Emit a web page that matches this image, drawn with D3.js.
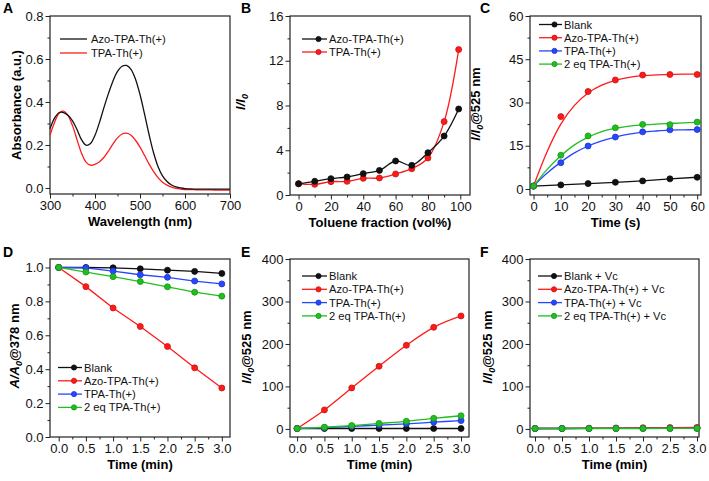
<!DOCTYPE html>
<html><head><meta charset="utf-8">
<script src="https://cdn.jsdelivr.net/npm/d3@7"></script>
<style>
html,body{margin:0;padding:0;background:#fff;}
svg text{font-family:"Liberation Sans",Arial,sans-serif;}
</style></head>
<body><svg id="c" width="709" height="481"></svg>
<script>
// ---------- DATA ----------
// Panel A: UV-vis
const wavelength = [300,310,320,330,340,350,360,370,380,390,400,410,420,430,440,450,460,470,480,490,500,510,520,530,540,550,560,570,580,590,600,610,620,630,640,650,660,670,680,690,700];
const absAzo = [0.275,0.325,0.350,0.351,0.338,0.312,0.272,0.225,0.199,0.207,0.245,0.305,0.375,0.440,0.498,0.542,0.566,0.570,0.552,0.506,0.435,0.345,0.250,0.165,0.100,0.056,0.030,0.014,0.005,0.000,-0.003,-0.004,-0.005,-0.005,-0.005,-0.005,-0.005,-0.005,-0.005,-0.005,-0.005];
const absTpa = [0.245,0.305,0.348,0.357,0.336,0.290,0.225,0.162,0.120,0.106,0.110,0.122,0.143,0.172,0.205,0.233,0.251,0.255,0.245,0.222,0.190,0.152,0.112,0.077,0.048,0.027,0.013,0.004,-0.002,-0.005,-0.007,-0.008,-0.008,-0.009,-0.009,-0.009,-0.009,-0.010,-0.010,-0.010,-0.010];
// Panel B: toluene fraction
const toluene = [0,10,20,30,40,50,60,70,80,90,99];
const bAzo = [1.01,1.22,1.46,1.61,1.91,2.2,3.04,2.65,3.78,5.27,7.69];
const bTpa = [1.0,0.95,1.19,1.22,1.49,1.52,1.88,2.35,3.31,6.56,13.0];
// Panel C: time (s)
const timeS = [0,10,20,30,40,50,60];
const cBlank = [1.0,1.4,1.85,2.3,2.8,3.5,4.05];
const cAzo = [1.0,25.1,33.8,37.8,39.5,39.7,39.7];
const cTpa = [1.0,9.1,14.9,18.0,19.8,20.5,20.6];
const c2eq = [1.0,11.7,18.4,21.2,22.4,22.3,23.2];
const fitTimeS = [0,5,10,15,20,25,30,35,40,45,50,55,60];
const cAzoFit = [1,13,22.5,29,33.3,36,37.7,38.7,39.3,39.6,39.7,39.8,39.8];
const cTpaFit = [1,5.5,9.3,12.5,14.9,16.7,18.0,19.0,19.7,20.1,20.4,20.5,20.6];
const c2eqFit = [1,6.8,11.5,15.3,18.0,19.9,21.0,21.8,22.2,22.5,22.7,22.9,23.1];
// Panels D-F: time (min)
const timeMin = [0,0.5,1.0,1.5,2.0,2.5,3.0];
const dBlank = [1.0,1.0,0.998,0.992,0.984,0.977,0.965];
const dAzo = [1.0,0.887,0.761,0.652,0.534,0.408,0.289];
const dTpa = [1.0,0.998,0.979,0.957,0.942,0.920,0.903];
const d2eq = [1.0,0.973,0.946,0.917,0.886,0.854,0.831];
const eBlank = [1,1,1,1,1,1,1];
const eAzo = [1,44.7,96.5,147.5,196.9,239.2,265.9];
const eTpa = [1,3,6,9,12,16,19.6];
const e2eq = [1,4,8,13,18,25,31];
const fBlank = [1,1,1.2,1.3,1.5,1.7,2];
const fAzo = [1,1.2,1.8,2.3,2.8,3.2,3.6];
const fTpa = [1,1,1.1,1.2,1.3,1.4,1.5];
const f2eq = [1,1,1,1,1,1.1,1.2];
// Labels
const namesCDE = ["Blank","Azo-TPA-Th(+)","TPA-Th(+)","2 eq TPA-Th(+)"];
const namesF = ["Blank + Vc","Azo-TPA-Th(+) + Vc","TPA-Th(+) + Vc","2 eq TPA-Th(+) + Vc"];
const namesAB = ["Azo-TPA-Th(+)","TPA-Th(+)"];
const xTicksA = [300,400,500,600,700], yTicksA = [0.0,0.2,0.4,0.6,0.8];
const xTicksB = [0,20,40,60,80,100], yTicksB = [0,4,8,12,16];
const xTicksC = [0,10,20,30,40,50,60], yTicksC = [0,15,30,45,60];
const xTicksMin = [0.0,0.5,1.0,1.5,2.0,2.5,3.0];
const yTicksD = [0.0,0.2,0.4,0.6,0.8,1.0], yTicksEF = [0,100,200,300,400];

// ---------- STYLE ----------
const COL = {black:"#111111", red:"#ff1a1a", blue:"#2646ff", green:"#1fbf1f"};
const seriesCols = [COL.black, COL.red, COL.blue, COL.green];
const svg = d3.select("#c");
svg.append("rect").attr("width",709).attr("height",481).attr("fill","#fff");

function panel(cfg){
  const g = svg.append("g");
  const x = d3.scaleLinear().domain(cfg.xd).range([cfg.x0,cfg.x1]);
  const y = d3.scaleLinear().domain(cfg.yd).range([cfg.y1,cfg.y0]);
  const gxm = g.append("g").attr("transform",`translate(0,${cfg.y1})`)
    .call(d3.axisBottom(x).tickValues(cfg.xMinor).tickSize(2.5).tickFormat(""));
  const gym = g.append("g").attr("transform",`translate(${cfg.x0},0)`)
    .call(d3.axisLeft(y).tickValues(cfg.yMinor).tickSize(2.5).tickFormat(""));
  const gx = g.append("g").attr("transform",`translate(0,${cfg.y1})`)
    .call(d3.axisBottom(x).tickValues(cfg.xTicks).tickSize(4.5).tickPadding(2).tickFormat(d3.format(cfg.xf)));
  const gy = g.append("g").attr("transform",`translate(${cfg.x0},0)`)
    .call(d3.axisLeft(y).tickValues(cfg.yTicks).tickSize(4.5).tickPadding(2).tickFormat(d3.format(cfg.yf)));
  [gxm,gym,gx,gy].forEach(a=>{a.select(".domain").remove(); a.selectAll("line").attr("stroke","#222").attr("stroke-width",1);});
  [gx,gy].forEach(a=>a.selectAll("text").attr("font-size",13).attr("fill","#111"));
  g.append("rect").attr("x",cfg.x0).attr("y",cfg.y0).attr("width",cfg.x1-cfg.x0).attr("height",cfg.y1-cfg.y0)
    .attr("fill","none").attr("stroke","#222").attr("stroke-width",1.2);
  g.append("text").attr("x",cfg.lx).attr("y",cfg.ly).attr("font-size",14).attr("font-weight","bold").text(cfg.letter);
  g.append("text").attr("x",(cfg.x0+cfg.x1)/2).attr("y",cfg.y1+32).attr("text-anchor","middle")
    .attr("font-size",13).attr("font-weight","bold").text(cfg.xTitle);
  const yt = g.append("text").attr("transform",`translate(${cfg.ytx},${cfg.yty}) rotate(-90)`)
    .attr("text-anchor","middle").attr("font-size",13).attr("font-weight","bold");
  cfg.yTitle.forEach(p=>{
    const t = yt.append("tspan").text(p.t);
    if(p.i) t.attr("font-style","italic");
    if(p.sub) t.attr("font-size",9).attr("dy",3);
    if(p.after) t.attr("dy",-3);
  });
  return {g,x,y};
}

function drawLine(P, xs, ys, color, curve){
  P.g.append("path").datum(xs.map((v,i)=>[v,ys[i]]))
    .attr("d", d3.line().x(d=>P.x(d[0])).y(d=>P.y(d[1])).curve(curve||d3.curveLinear))
    .attr("fill","none").attr("stroke",color).attr("stroke-width",1.3);
}
function drawPts(P, xs, ys, color){
  P.g.append("g").selectAll("circle").data(xs.map((v,i)=>[v,ys[i]])).join("circle")
    .attr("cx",d=>P.x(d[0])).attr("cy",d=>P.y(d[1])).attr("r",3)
    .attr("fill",color).attr("stroke",d3.color(color).darker(0.7)).attr("stroke-width",0.8);
}
function legend(P, names, cols, x1, x2, ys, tx, markers){
  names.forEach((n,i)=>{
    P.g.append("line").attr("x1",x1).attr("x2",x2).attr("y1",ys[i]).attr("y2",ys[i])
      .attr("stroke",cols[i]).attr("stroke-width",1.3);
    if(markers) P.g.append("circle").attr("cx",(x1+x2)/2+4).attr("cy",ys[i]).attr("r",2.6)
      .attr("fill",cols[i]).attr("stroke",d3.color(cols[i]).darker(0.7)).attr("stroke-width",0.8);
    P.g.append("text").attr("x",tx).attr("y",ys[i]+4).attr("font-size",11.2).attr("fill","#111").text(n);
  });
}
const I0 = [{t:"I/I",i:true},{t:"0",i:true,sub:true},{t:"@525 nm",after:true}];

// ---------- PANEL A ----------
const A = panel({x0:50,x1:230,y0:16,y1:194,xd:[300,700],yd:[-0.028,0.8],
  xTicks:xTicksA,xMinor:d3.range(350,700,100),yTicks:yTicksA,yMinor:[0.1,0.3,0.5,0.7],xf:"d",yf:".1f",
  letter:"A",lx:3,ly:13,xTitle:"Wavelength (nm)",ytx:21,yty:105,yTitle:[{t:"Absorbance (a.u.)"}]});
drawLine(A, wavelength, absTpa, COL.red, d3.curveCatmullRom);
drawLine(A, wavelength, absAzo, COL.black, d3.curveCatmullRom);
legend(A, namesAB, [COL.black,COL.red], 60, 87, [39,53], 91, false);

// ---------- PANEL B ----------
const B = panel({x0:290,x1:470,y0:16,y1:195,xd:[-5.3,106],yd:[0,16],
  xTicks:xTicksB,xMinor:[10,30,50,70,90],yTicks:yTicksB,yMinor:[2,6,10,14],xf:"d",yf:"d",
  letter:"B",lx:241,ly:13,xTitle:"Toluene fraction (vol%)",ytx:245,yty:102,
  yTitle:[{t:"I/I",i:true},{t:"0",i:true,sub:true}]});
drawLine(B, toluene, bTpa, COL.red, d3.curveCatmullRom);
drawPts(B, toluene, bTpa, COL.red);
drawLine(B, toluene, bAzo, COL.black, d3.curveCatmullRom);
drawPts(B, toluene, bAzo, COL.black);
legend(B, namesAB, [COL.black,COL.red], 302, 327, [39,52], 329, true);

// ---------- PANEL C ----------
const C = panel({x0:530,x1:701,y0:16,y1:195,xd:[-1.3,61.4],yd:[-2.1,60],
  xTicks:xTicksC,xMinor:[5,15,25,35,45,55],yTicks:yTicksC,yMinor:[7.5,22.5,37.5,52.5],xf:"d",yf:"d",
  letter:"C",lx:480,ly:13,xTitle:"Time (s)",ytx:480,yty:104,yTitle:I0});
drawLine(C, timeS, cBlank, COL.black);
drawPts(C, timeS, cBlank, COL.black);
drawLine(C, fitTimeS, cAzoFit, COL.red, d3.curveCatmullRom);
drawPts(C, timeS, cAzo, COL.red);
drawLine(C, fitTimeS, cTpaFit, COL.blue, d3.curveCatmullRom);
drawPts(C, timeS, cTpa, COL.blue);
drawLine(C, fitTimeS, c2eqFit, COL.green, d3.curveCatmullRom);
drawPts(C, timeS, c2eq, COL.green);
legend(C, namesCDE, seriesCols, 539, 562, [24.5,37.7,50.9,64.1], 564, true);

// ---------- PANEL D ----------
const D = panel({x0:50,x1:230,y0:259,y1:437,xd:[-0.16,3.15],yd:[0,1.05],
  xTicks:xTicksMin,xMinor:[0.25,0.75,1.25,1.75,2.25,2.75],yTicks:yTicksD,yMinor:[0.1,0.3,0.5,0.7,0.9],xf:".1f",yf:".1f",
  letter:"D",lx:3,ly:257,xTitle:"Time (min)",ytx:19,yty:346,
  yTitle:[{t:"A/A",i:true},{t:"0",i:true,sub:true},{t:"@378 nm",after:true}]});
[[dBlank,COL.black],[dAzo,COL.red],[dTpa,COL.blue],[d2eq,COL.green]].forEach(([s,c])=>{drawLine(D,timeMin,s,c);drawPts(D,timeMin,s,c);});
legend(D, namesCDE, seriesCols, 58, 82, [367.5,380.8,394.1,407.4], 84, true);

// ---------- PANEL E ----------
const E = panel({x0:290,x1:469,y0:259,y1:437,xd:[-0.13,3.146],yd:[-19,400],
  xTicks:xTicksMin,xMinor:[0.25,0.75,1.25,1.75,2.25,2.75],yTicks:yTicksEF,yMinor:[50,150,250,350],xf:".1f",yf:"d",
  letter:"E",lx:241,ly:257,xTitle:"Time (min)",ytx:251,yty:347,yTitle:I0});
[[eBlank,COL.black],[eAzo,COL.red],[eTpa,COL.blue],[e2eq,COL.green]].forEach(([s,c])=>{drawLine(E,timeMin,s,c,d3.curveCatmullRom);drawPts(E,timeMin,s,c);});
legend(E, namesCDE, seriesCols, 302, 327, [276,289.3,302.6,315.9], 329, true);

// ---------- PANEL F ----------
const F = panel({x0:530,x1:699,y0:259,y1:437,xd:[-0.093,3.037],yd:[-19,400],
  xTicks:xTicksMin,xMinor:[0.25,0.75,1.25,1.75,2.25,2.75],yTicks:yTicksEF,yMinor:[50,150,250,350],xf:".1f",yf:"d",
  letter:"F",lx:480,ly:257,xTitle:"Time (min)",ytx:492,yty:347,yTitle:I0});
[[fBlank,COL.black],[fAzo,COL.red],[fTpa,COL.blue],[f2eq,COL.green]].forEach(([s,c])=>{drawLine(F,timeMin,s,c);drawPts(F,timeMin,s,c);});
legend(F, namesF, seriesCols, 538, 562, [276,289.3,302.6,315.9], 564, true);
</script></body></html>
